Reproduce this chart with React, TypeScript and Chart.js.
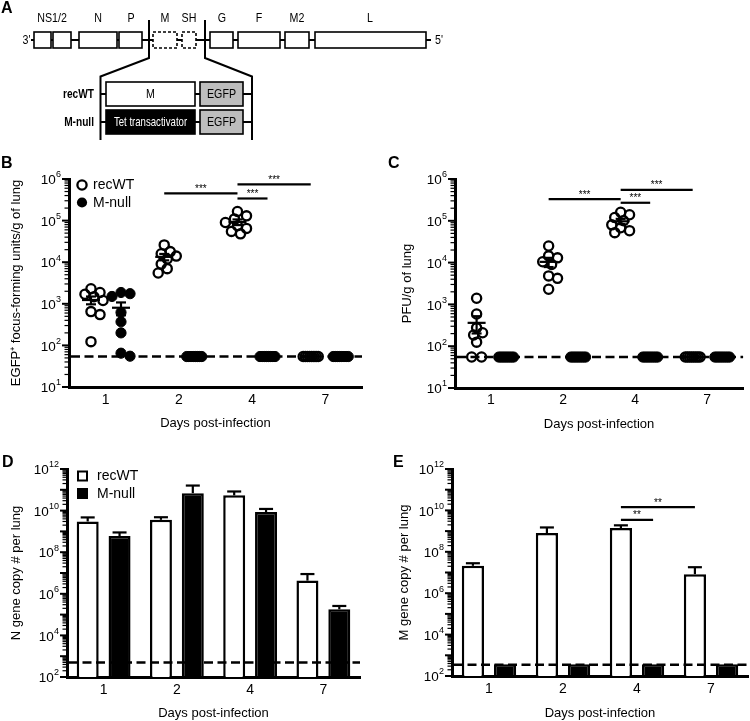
import React, { useEffect, useRef } from 'react';
import { Chart, registerables } from 'chart.js';

Chart.register(...registerables);

const SANS = '"Liberation Sans", Arial, Helvetica, sans-serif';
Chart.defaults.font.family = SANS;
Chart.defaults.color = '#000';

// ---------------- Panel A: genome map (diagram units) ----------------
const genomeBoxes: [number, number, boolean][] = [
  [34, 51, false], [53, 71, false], [79, 117, false], [119, 142, false],
  [153, 177, true], [182, 196, true], [210, 233, false], [238, 280, false],
  [285, 309, false], [315, 426, false],
];
const genomeLabels: [string, number][] = [
  ['NS1/2', 52], ['N', 98], ['P', 131], ['M', 165], ['SH', 189],
  ['G', 222], ['F', 259], ['M2', 297], ['L', 370],
];
const constructNames = ['recWT', 'M-null'];
const constructInserts = ['M', 'Tet transactivator'];
const reporterLabel = 'EGFP';

// ---------------- Panels B–E ----------------
const days = ['1', '2', '4', '7'];
const seriesNames = ['recWT', 'M-null'];

// B: EGFP+ focus-forming units / g of lung
const focusRecWT = [
  [2300, 1870, 1700, 1480, 1200, 650, 550, 123],
  [26000, 18000, 16000, 14000, 12000, 9000, 7000, 5500],
  [165000, 130000, 110000, 90000, 75000, 65000, 55000, 48000],
  [54, 54, 54, 54, 54, 54, 54, 54],
];
const focusMnull = [
  [1870, 1750, 1500, 620, 370, 200, 65, 55],
  [54, 54, 54, 54, 54, 54, 54, 54],
  [54, 54, 54, 54, 54, 54, 54, 54],
  [54, 54, 54, 54, 54, 54, 54, 54],
];
const focusLOD = 54;

// C: PFU / g of lung
const pfuRecWT = [
  [1400, 590, 275, 210, 185, 125, 55, 55],
  [25000, 14500, 13000, 10500, 9000, 4800, 4200, 2300],
  [160000, 140000, 120000, 100000, 80000, 68000, 58000, 52000],
  [55, 55, 55, 55, 55, 55, 55, 55],
];
const pfuMnull = [
  [55, 55, 55, 55, 55, 55, 55, 55],
  [55, 55, 55, 55, 55, 55, 55, 55],
  [55, 55, 55, 55, 55, 55, 55, 55],
  [55, 55, 55, 55, 55, 55, 55, 55],
];
const pfuLOD = 55;

// D: N gene copy # per lung (mean, SEM)
const nCopyRecWT = [3.0e9, 3.6e9, 5.4e10, 4.3e6];
const nCopyRecWTSem = [1.7e9, 1.2e9, 2.9e10, 4.6e6];
const nCopyMnull = [6.0e8, 6.9e10, 8.5e9, 1.8e5];
const nCopyMnullSem = [2.9e8, 9.1e10, 3.5e9, 0.8e5];
const nCopyLOD = 500;

// E: M gene copy # per lung (mean, SEM)
const mCopyRecWT = [2.1e7, 8.0e8, 1.4e9, 8.3e6];
const mCopyRecWTSem = [0.7e7, 7.0e8, 0.5e9, 9.7e6];
const mCopyMnull = [370, 370, 370, 370];
const mCopyMnullSem = [0, 0, 0, 0];
const mCopyLOD = 350;

// significance: [dayA, seriesA, dayB, seriesB, bar height (data units), label]
type SigT = [number, number, number, number, number, string];
const focusSig: SigT[] = [[1, 0, 2, 0, 4.5e5, '***'], [2, 0, 3, 0, 7.4e5, '***'], [2, 0, 2, 1, 3.4e5, '***']];
const pfuSig: SigT[] = [[1, 0, 2, 0, 3.3e5, '***'], [2, 0, 3, 0, 5.5e5, '***'], [2, 0, 2, 1, 2.7e5, '***']];
const nCopySig: SigT[] = [];
const mCopySig: SigT[] = [[2, 0, 3, 0, 1.45e10, '**'], [2, 0, 2, 1, 3.5e9, '**']];

const titerTickExps = [1, 2, 3, 4, 5, 6];
const copyTickExps = [2, 4, 6, 8, 10, 12];

// ---------------- helpers ----------------
const SERIES_SHIFT = [-0.2, 0.21];

const mean = (a: number[]) => a.reduce((s, v) => s + v, 0) / a.length;
const sem = (a: number[]) => {
  const m = mean(a);
  return Math.sqrt(a.reduce((s, v) => s + (v - m) * (v - m), 0) / (a.length - 1) / a.length);
};

// deterministic beeswarm offsets (category units)
function swarmOffsets(vals: number[], lod: number): number[] {
  const PX_CAT = 73, PX_DEC = 41.7, MIN_D = 7.5, STEP = 3;
  const off = vals.map(() => 0);
  const placed: { x: number; y: number }[] = [];
  const atLod = vals.map((_, i) => i).filter((i) => vals[i] <= lod);
  const n = atLod.length;
  const span = n < 2 ? 0 : n === 2 ? 10 : 15;
  atLod.forEach((i, k) => {
    const x = n < 2 ? 0 : (k / (n - 1) - 0.5) * span;
    off[i] = x / PX_CAT;
    placed.push({ x, y: Math.log10(vals[i]) * PX_DEC });
  });
  const rest = vals.map((_, i) => i).filter((i) => vals[i] > lod).sort((a, b) => vals[b] - vals[a]);
  for (const i of rest) {
    const y = Math.log10(vals[i]) * PX_DEC;
    let best = 0, bestD = -1;
    for (let j = 0; j < 9; j++) {
      const c = j === 0 ? 0 : (j % 2 ? 1 : -1) * Math.ceil(j / 2) * STEP;
      const d = Math.min(Infinity, ...placed.map((p) => Math.hypot(p.x - c, p.y - y)));
      if (d >= MIN_D) { best = c; bestD = d; break; }
      if (d > bestD) { bestD = d; best = c; }
    }
    off[i] = best / PX_CAT;
    placed.push({ x: best, y });
  }
  return off;
}

function line(ctx: CanvasRenderingContext2D, x1: number, y1: number, x2: number, y2: number) {
  ctx.beginPath();
  ctx.moveTo(x1, y1);
  ctx.lineTo(x2, y2);
  ctx.stroke();
}

// horizontally condensed text (Helvetica-Narrow look)
function narrowText(ctx: CanvasRenderingContext2D, text: string, x: number, y: number, align: CanvasTextAlign, font: string, sx = 0.82) {
  ctx.save();
  ctx.font = font;
  ctx.textAlign = align;
  ctx.textBaseline = 'middle';
  ctx.translate(x, y);
  ctx.scale(sx, 1);
  ctx.fillText(text, 0, 0);
  ctx.restore();
}

function drawPow(ctx: CanvasRenderingContext2D, xRight: number, y: number, exp: number) {
  const e = String(exp);
  ctx.textAlign = 'right';
  ctx.textBaseline = 'middle';
  ctx.font = `9px ${SANS}`;
  const ew = ctx.measureText(e).width;
  ctx.fillText(e, xRight, y - 4);
  ctx.font = `13.5px ${SANS}`;
  ctx.fillText('10', xRight - ew - 0.3, y + 1.5);
}

function drawLogTicks(chart: any, minExp: number, maxExp: number, labelExps: number[]) {
  const ctx = chart.ctx as CanvasRenderingContext2D;
  const ys = chart.scales.y;
  const ax = chart.chartArea.left;
  ctx.save();
  ctx.strokeStyle = '#000';
  ctx.fillStyle = '#000';
  for (let e = minExp; e <= maxExp; e++) {
    const y = ys.getPixelForValue(Math.pow(10, e));
    ctx.lineWidth = 2;
    line(ctx, ax - 7, y, ax, y);
    if (e < maxExp) {
      for (let k = 2; k <= 9; k++) {
        const yy = ys.getPixelForValue(k * Math.pow(10, e));
        ctx.lineWidth = 1.2;
        line(ctx, ax - 4.5, yy, ax, yy);
      }
    }
    if (labelExps.includes(e)) drawPow(ctx, ax - 8, y, e);
  }
  ctx.restore();
}

function drawLod(chart: any, lod: number) {
  const ctx = chart.ctx as CanvasRenderingContext2D;
  const { left, right } = chart.chartArea;
  const y = chart.scales.y.getPixelForValue(lod);
  ctx.save();
  ctx.strokeStyle = '#000';
  ctx.lineWidth = 2.5;
  ctx.setLineDash([9, 4.5]);
  line(ctx, left + 2, y, right, y);
  ctx.restore();
}

function drawSig(ctx: CanvasRenderingContext2D, x1: number, x2: number, y: number, label: string) {
  ctx.save();
  ctx.strokeStyle = '#000';
  ctx.fillStyle = '#000';
  ctx.lineWidth = 2.2;
  line(ctx, x1, y, x2, y);
  ctx.font = `10px ${SANS}`;
  ctx.textAlign = 'center';
  ctx.textBaseline = 'alphabetic';
  ctx.fillText(label, (x1 + x2) / 2, y - 1.5);
  ctx.restore();
}

function drawLegend(ctx: CanvasRenderingContext2D, x: number, y: number, shape: 'circle' | 'square') {
  ctx.save();
  ctx.strokeStyle = '#000';
  ctx.fillStyle = '#000';
  seriesNames.forEach((name, s) => {
    const cy = y + s * 17.5;
    if (shape === 'circle') {
      ctx.beginPath();
      ctx.arc(x, cy, s === 0 ? 4.6 : 5.1, 0, Math.PI * 2);
      if (s === 0) { ctx.lineWidth = 2.3; ctx.stroke(); } else { ctx.fill(); }
    } else {
      if (s === 0) { ctx.lineWidth = 2; ctx.strokeRect(x - 4.5, cy - 4.5, 9, 9); } else { ctx.fillRect(x - 5.5, cy - 5.5, 11, 11); }
    }
    ctx.font = `14px ${SANS}`;
    ctx.textAlign = 'left';
    ctx.textBaseline = 'middle';
    ctx.fillText(name, x + (shape === 'circle' ? 11 : 14.5), cy + 0.5);
  });
  ctx.restore();
}

function axisCommon(title: string, titlePad: any, fontSize: number) {
  return {
    grid: { display: false, drawTicks: false },
    border: { display: true, color: '#000', width: 3 },
    title: { display: true, text: title, color: '#000', font: { size: fontSize, family: SANS }, padding: titlePad },
  };
}

// ---------------- configs ----------------
function genomeConfig(): any {
  const plugin = {
    id: 'genome',
    afterDraw(chart: any) {
      const ctx = chart.ctx as CanvasRenderingContext2D;
      const X = (v: number) => chart.scales.x.getPixelForValue(v);
      const Y = (v: number) => chart.scales.y.getPixelForValue(v);
      ctx.save();
      ctx.strokeStyle = '#000';
      ctx.fillStyle = '#000';
      // backbone
      ctx.lineWidth = 2;
      line(ctx, X(31), Y(40), X(431), Y(40));
      // zoom lines
      ctx.beginPath();
      ctx.moveTo(X(149), Y(20)); ctx.lineTo(X(149), Y(58)); ctx.lineTo(X(100.5), Y(76.5)); ctx.lineTo(X(100.5), Y(140));
      ctx.moveTo(X(205), Y(20)); ctx.lineTo(X(205), Y(58)); ctx.lineTo(X(252), Y(76.5)); ctx.lineTo(X(252), Y(140));
      ctx.stroke();
      // gene boxes
      for (const [s, e, dashed] of genomeBoxes) {
        ctx.fillStyle = '#fff';
        ctx.fillRect(X(s), Y(32), X(e) - X(s), Y(48) - Y(32));
        ctx.lineWidth = 1.6;
        ctx.setLineDash(dashed ? [3, 2] : []);
        ctx.strokeRect(X(s), Y(32), X(e) - X(s), Y(48) - Y(32));
      }
      ctx.setLineDash([]);
      ctx.fillStyle = '#000';
      const f = `13px ${SANS}`;
      for (const [t, x] of genomeLabels) narrowText(ctx, t, X(x), Y(18.5), 'center', f);
      narrowText(ctx, "3'", X(30.5), Y(40), 'right', f);
      narrowText(ctx, "5'", X(435), Y(40), 'left', f);
      // constructs
      constructNames.forEach((name, r) => {
        const top = r === 0 ? 82 : 110;
        const cy = top + 12;
        ctx.lineWidth = 2;
        ctx.strokeStyle = '#000';
        line(ctx, X(100.5), Y(cy), X(252), Y(cy));
        ctx.fillStyle = r === 0 ? '#fff' : '#000';
        ctx.fillRect(X(106), Y(top), X(195) - X(106), Y(top + 24) - Y(top));
        ctx.lineWidth = 1.6;
        ctx.strokeRect(X(106), Y(top), X(195) - X(106), Y(top + 24) - Y(top));
        ctx.fillStyle = '#bdbdbd';
        ctx.fillRect(X(200), Y(top), X(243) - X(200), Y(top + 24) - Y(top));
        ctx.strokeRect(X(200), Y(top), X(243) - X(200), Y(top + 24) - Y(top));
        const g = `13px ${SANS}`;
        ctx.fillStyle = r === 0 ? '#000' : '#fff';
        narrowText(ctx, constructInserts[r], X(150.5), Y(cy + 0.5), 'center', g, r === 0 ? 0.82 : 0.74);
        ctx.fillStyle = '#000';
        narrowText(ctx, reporterLabel, X(221.5), Y(cy + 0.5), 'center', g);
        narrowText(ctx, name, X(94), Y(cy + 0.5), 'right', `bold 13px ${SANS}`, 0.78);
      });
      ctx.restore();
    },
  };
  return {
    type: 'scatter',
    data: { datasets: [] },
    options: {
      responsive: false, animation: false, events: [],
      layout: { padding: 0 },
      plugins: { legend: { display: false }, tooltip: { enabled: false } },
      scales: {
        x: { type: 'linear', display: false, min: 0, max: 750 },
        y: { type: 'linear', display: false, min: 0, max: 160, reverse: true },
      },
    },
    plugins: [plugin],
  };
}

function scatterConfig(o: {
  recwt: number[][]; mnull: number[][]; lod: number; sig: SigT[]; yTitle: string; yTitlePad: number;
  yWidth: number; padRight: number; xHeight: number; tickPad: number; xTitlePad: number; legend: boolean;
}): any {
  const sets = [o.recwt, o.mnull];
  const datasets = sets.map((groups, s) => ({
    label: seriesNames[s],
    data: groups.flatMap((vals, d) => {
      const off = swarmOffsets(vals, o.lod);
      return vals.map((v, i) => ({ x: d + 1 + SERIES_SHIFT[s] + off[i], y: v }));
    }),
    pointStyle: 'circle',
    pointRadius: s === 0 ? 4.6 : 5.1,
    pointBorderWidth: s === 0 ? 2.3 : 1,
    pointBorderColor: '#000',
    pointBackgroundColor: s === 0 ? 'rgba(0,0,0,0)' : '#000',
    showLine: false,
  }));
  const plugin = {
    id: 'scatterDecor',
    beforeDatasetsDraw(chart: any) { drawLod(chart, o.lod); },
    afterDraw(chart: any) {
      const ctx = chart.ctx as CanvasRenderingContext2D;
      const xs = chart.scales.x, ys = chart.scales.y;
      ctx.save();
      ctx.strokeStyle = '#000';
      ctx.lineWidth = 2.2;
      sets.forEach((groups, s) => groups.forEach((vals, d) => {
        const m = mean(vals), e = sem(vals);
        const px = xs.getPixelForValue(d + 1 + SERIES_SHIFT[s]);
        const pm = ys.getPixelForValue(m);
        line(ctx, px - 9, pm, px + 9, pm);
        if (e > 0) {
          const p1 = ys.getPixelForValue(m + e), p0 = ys.getPixelForValue(m - e);
          line(ctx, px, p0, px, p1);
          line(ctx, px - 5, p1, px + 5, p1);
          line(ctx, px - 5, p0, px + 5, p0);
        }
      }));
      ctx.restore();
      for (const [da, sa, db, sb, h, label] of o.sig) {
        drawSig(ctx, xs.getPixelForValue(da + 1 + SERIES_SHIFT[sa]), xs.getPixelForValue(db + 1 + SERIES_SHIFT[sb]), ys.getPixelForValue(h), label);
      }
      if (o.legend) drawLegend(ctx, chart.chartArea.left + 13, chart.chartArea.top + 6, 'circle');
      drawLogTicks(chart, 1, 6, titerTickExps);
    },
  };
  return {
    type: 'scatter',
    data: { datasets },
    options: {
      responsive: false, animation: false, events: [],
      layout: { padding: { top: 19, right: o.padRight, left: 0, bottom: 0 } },
      plugins: { legend: { display: false }, tooltip: { enabled: false } },
      scales: {
        x: {
          type: 'linear', min: 0.5, max: 4.5, offset: false,
          ...axisCommon('Days post-infection', { top: 0, bottom: o.xTitlePad }, 13),
          afterBuildTicks: (s: any) => { s.ticks = days.map((_, i) => ({ value: i + 1 })); },
          ticks: { autoSkip: false, maxRotation: 0, padding: o.tickPad, color: '#000', font: { size: 14 }, callback: (v: number) => days[Math.round(v) - 1] ?? '' },
          afterFit: (s: any) => { s.height = o.xHeight; },
        },
        y: {
          type: 'logarithmic', min: 10, max: 1e6,
          ...axisCommon(o.yTitle, { top: o.yTitlePad, bottom: 0 }, 13),
          ticks: { display: false },
          afterFit: (s: any) => { s.width = o.yWidth; },
        },
      },
    },
    plugins: [plugin],
  };
}

function barConfig(o: {
  recwt: number[]; recwtSem: number[]; mnull: number[]; mnullSem: number[]; lod: number; sig: SigT[];
  yTitle: string; yTitlePad: number; yWidth: number; padRight: number; xHeight: number; legend: boolean;
}): any {
  const vals = [o.recwt, o.mnull];
  const sems = [o.recwtSem, o.mnullSem];
  const plugin = {
    id: 'barDecor',
    afterDatasetsDraw(chart: any) {
      const ctx = chart.ctx as CanvasRenderingContext2D;
      const ys = chart.scales.y;
      ctx.save();
      ctx.strokeStyle = '#000';
      ctx.lineWidth = 2.2;
      vals.forEach((v, s) => {
        const meta = chart.getDatasetMeta(s);
        v.forEach((val, i) => {
          const e = sems[s][i];
          if (!(e > 0)) return;
          const el = meta.data[i];
          const top = ys.getPixelForValue(val + e);
          line(ctx, el.x, el.y, el.x, top);
          line(ctx, el.x - 7, top, el.x + 7, top);
        });
      });
      ctx.restore();
      drawLod(chart, o.lod);
    },
    afterDraw(chart: any) {
      const ctx = chart.ctx as CanvasRenderingContext2D;
      const ys = chart.scales.y;
      for (const [da, sa, db, sb, h, label] of o.sig) {
        const xa = chart.getDatasetMeta(sa).data[da].x;
        const xb = chart.getDatasetMeta(sb).data[db].x;
        drawSig(ctx, xa, xb, ys.getPixelForValue(h), label);
      }
      if (o.legend) drawLegend(ctx, chart.chartArea.left + 15.5, chart.chartArea.top + 7, 'square');
      drawLogTicks(chart, 2, 12, copyTickExps);
    },
  };
  return {
    type: 'bar',
    data: {
      labels: days,
      datasets: vals.map((v, s) => ({
        label: seriesNames[s],
        data: v,
        backgroundColor: s ? '#000' : '#fff',
        borderColor: '#000',
        borderWidth: 2.5,
        borderSkipped: 'start',
        categoryPercentage: 0.87,
        barPercentage: 0.69,
      })),
    },
    options: {
      responsive: false, animation: false, events: [],
      layout: { padding: { top: 29, right: o.padRight, left: 0, bottom: 0 } },
      plugins: { legend: { display: false }, tooltip: { enabled: false } },
      scales: {
        x: {
          type: 'category',
          ...axisCommon('Days post-infection', { top: 0, bottom: 0 }, 13),
          ticks: { autoSkip: false, maxRotation: 0, padding: 4.5, color: '#000', font: { size: 14 } },
          afterFit: (s: any) => { s.height = o.xHeight; },
        },
        y: {
          type: 'logarithmic', min: 100, max: 1e12,
          ...axisCommon(o.yTitle, { top: o.yTitlePad, bottom: 0 }, 13),
          ticks: { display: false },
          afterFit: (s: any) => { s.width = o.yWidth; },
        },
      },
    },
    plugins: [plugin],
  };
}

// ---------------- components ----------------
function ChartBox(props: { left: number; top: number; width: number; height: number; make: () => any }) {
  const ref = useRef<HTMLCanvasElement>(null);
  useEffect(() => {
    const chart = new Chart(ref.current as HTMLCanvasElement, props.make());
    return () => chart.destroy();
  }, []);
  return (
    <div style={{ position: 'absolute', left: props.left, top: props.top, width: props.width, height: props.height }}>
      <canvas ref={ref} width={props.width} height={props.height} style={{ width: props.width, height: props.height, display: 'block' }} />
    </div>
  );
}

const letterStyle = (left: number, top: number): React.CSSProperties => ({
  position: 'absolute', left, top, font: `bold 16px ${SANS}`, lineHeight: '16px', color: '#000',
});

export default function App() {
  return (
    <div style={{ position: 'absolute', left: 0, top: 0, width: 750, height: 721, background: '#fff', overflow: 'hidden' }}>
      <ChartBox left={0} top={0} width={750} height={160} make={genomeConfig} />
      <ChartBox left={0} top={160} width={375} height={280} make={() => scatterConfig({
        recwt: focusRecWT, mnull: focusMnull, lod: focusLOD, sig: focusSig,
        yTitle: 'EGFP\u207A focus-forming units/g of lung', yTitlePad: 9, yWidth: 69, padRight: 13,
        xHeight: 53, tickPad: 4.5, xTitlePad: 9, legend: true,
      })} />
      <ChartBox left={375} top={160} width={375} height={280} make={() => scatterConfig({
        recwt: pfuRecWT, mnull: pfuMnull, lod: pfuLOD, sig: pfuSig,
        yTitle: 'PFU/g of lung', yTitlePad: 25, yWidth: 80, padRight: 3,
        xHeight: 52, tickPad: 3.5, xTitlePad: 8, legend: false,
      })} />
      <ChartBox left={0} top={440} width={375} height={281} make={() => barConfig({
        recwt: nCopyRecWT, recwtSem: nCopyRecWTSem, mnull: nCopyMnull, mnullSem: nCopyMnullSem, lod: nCopyLOD, sig: nCopySig,
        yTitle: 'N gene copy # per lung', yTitlePad: 9, yWidth: 67, padRight: 15, xHeight: 44, legend: true,
      })} />
      <ChartBox left={375} top={440} width={375} height={281} make={() => barConfig({
        recwt: mCopyRecWT, recwtSem: mCopyRecWTSem, mnull: mCopyMnull, mnullSem: mCopyMnullSem, lod: mCopyLOD, sig: mCopySig,
        yTitle: 'M gene copy # per lung', yTitlePad: 22, yWidth: 77, padRight: 2, xHeight: 45, legend: false,
      })} />
      <div style={letterStyle(1, 0)}>A</div>
      <div style={letterStyle(1, 154.5)}>B</div>
      <div style={letterStyle(388, 154.5)}>C</div>
      <div style={letterStyle(2, 453.5)}>D</div>
      <div style={letterStyle(393, 453.5)}>E</div>
    </div>
  );
}
